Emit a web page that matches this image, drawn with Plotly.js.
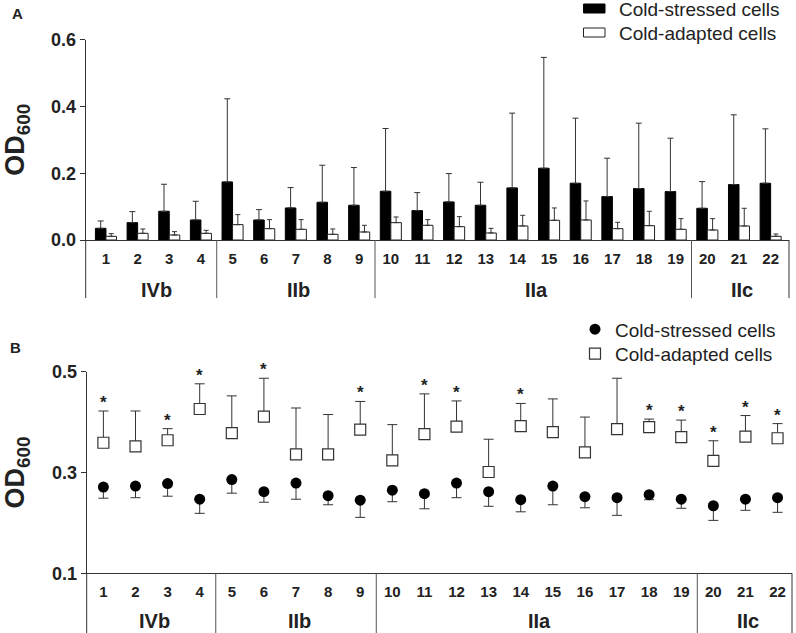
<!DOCTYPE html>
<html>
<head>
<meta charset="utf-8">
<script src="https://cdn.plot.ly/plotly-3.0.1.min.js"></script>
<style>html,body{margin:0;padding:0;background:#fff;}#chart{width:796px;height:633px;}</style>
</head>
<body>
<div id="chart"></div>
<script>
// ---- data ----
const categories = [1,2,3,4,5,6,7,8,9,10,11,12,13,14,15,16,17,18,19,20,21,22];
const tickLabels = ['1','2','3','4','5','6','7','8','9','10','11','12','13','14','15','16','17','18','19','20','21','22'];
const groupNames = ['IVb','IIb','IIa','IIc'];
const groupSizes = [4,5,10,3];
const seriesNames = ['Cold-stressed cells','Cold-adapted cells'];

// Panel A (bars, mean + upper SD)
const aStressed    = [0.035,0.052,0.086,0.060,0.174,0.060,0.096,0.113,0.104,0.146,0.088,0.114,0.104,0.156,0.215,0.170,0.130,0.154,0.145,0.095,0.166,0.170];
const aStressedErr = [0.022,0.033,0.081,0.056,0.249,0.031,0.061,0.111,0.113,0.188,0.054,0.085,0.069,0.224,0.332,0.195,0.115,0.196,0.160,0.080,0.209,0.163];
const aAdapted     = [0.011,0.020,0.015,0.020,0.046,0.034,0.032,0.017,0.024,0.052,0.044,0.040,0.021,0.042,0.059,0.060,0.034,0.043,0.032,0.030,0.042,0.011];
const aAdaptedErr  = [0.008,0.013,0.010,0.009,0.030,0.027,0.029,0.016,0.020,0.017,0.017,0.030,0.014,0.032,0.037,0.057,0.019,0.043,0.032,0.034,0.053,0.007];

// Panel B (points, stressed: lower SD, adapted: upper SD)
const bStressed    = [0.271,0.273,0.278,0.247,0.286,0.262,0.279,0.254,0.245,0.265,0.258,0.279,0.262,0.246,0.273,0.252,0.250,0.256,0.247,0.234,0.247,0.250];
const bStressedErr = [0.022,0.023,0.025,0.028,0.027,0.021,0.032,0.018,0.034,0.023,0.030,0.029,0.029,0.024,0.037,0.022,0.035,0.010,0.018,0.029,0.022,0.029];
const bAdapted     = [0.359,0.352,0.364,0.426,0.378,0.411,0.336,0.336,0.385,0.324,0.376,0.391,0.301,0.392,0.380,0.340,0.386,0.390,0.370,0.323,0.371,0.368];
const bAdaptedErr  = [0.063,0.070,0.023,0.050,0.074,0.076,0.092,0.079,0.056,0.071,0.080,0.051,0.065,0.045,0.066,0.070,0.101,0.016,0.034,0.040,0.042,0.029];
const significant  = [1,3,4,6,9,11,12,14,18,19,20,21,22];

// ---- styling ----
const FONT = 'Liberation Sans, Arial, Helvetica, sans-serif';
const INK = '#222';
const zeros = categories.map(() => 0);
const barColors = ['#000', '#fff'];
const barLines = ['#000', '#222'];

const traces = [
  {type:'bar', name:seriesNames[0], x:categories, y:aStressed, xaxis:'x', yaxis:'y', showlegend:false,
   marker:{color:barColors[0], line:{color:barLines[0], width:1}},
   error_y:{type:'data', symmetric:false, array:aStressedErr, arrayminus:zeros, color:'#333', thickness:1, width:3}},
  {type:'bar', name:seriesNames[1], x:categories, y:aAdapted, xaxis:'x', yaxis:'y', showlegend:false,
   marker:{color:barColors[1], line:{color:barLines[1], width:1}},
   error_y:{type:'data', symmetric:false, array:aAdaptedErr, arrayminus:zeros, color:'#333', thickness:1, width:2.5}},
  {type:'scatter', mode:'markers', name:seriesNames[0], x:categories, y:bStressed, xaxis:'x2', yaxis:'y2', legend:'legend',
   marker:{symbol:'circle', size:11, color:'#000'},
   error_y:{type:'data', symmetric:false, array:zeros, arrayminus:bStressedErr, color:'#333', thickness:1, width:5}},
  {type:'scatter', mode:'markers', name:seriesNames[1], x:categories, y:bAdapted, xaxis:'x2', yaxis:'y2', legend:'legend2',
   marker:{symbol:'square', size:11, color:'#fff', line:{color:'#333', width:1.2}},
   error_y:{type:'data', symmetric:false, array:bAdaptedErr, arrayminus:zeros, color:'#333', thickness:1, width:5}}
];

// group boundaries derived from group sizes
const bounds = []; let acc = 0;
groupSizes.forEach(n => { bounds.push([acc + 0.5, acc + n + 0.5]); acc += n; });

const W = 796, H = 633;
const px = v => v / W, py = v => 1 - v / H;

const xCommon = {
  type:'linear', showline:true, linecolor:'#333', linewidth:1, ticks:'', showgrid:false, zeroline:false,
  tickvals:categories, ticktext:tickLabels, ticklabelstandoff:5,
  tickfont:{family:FONT, size:15, color:INK, weight:'bold'}
};
const yCommon = {
  showline:true, linecolor:'#333', linewidth:1, ticks:'outside', ticklen:5, tickwidth:1, tickcolor:'#333',
  showgrid:false, zeroline:false, tickfont:{family:FONT, size:18, color:INK, weight:'bold'},
  title:{text:'OD<sub>600</sub>', font:{family:FONT, size:27, color:INK, weight:'bold'}, standoff:20}
};

const legendStyle = (topPx) => ({x:px(575), y:py(topPx), xanchor:'left', yanchor:'top',
  bgcolor:'rgba(0,0,0,0)', font:{family:FONT, size:19, color:INK}});

const layout = {
  width:W, height:H, margin:{l:0, r:0, t:0, b:0}, paper_bgcolor:'#fff', plot_bgcolor:'#fff',
  font:{family:FONT, color:INK}, barmode:'group', bargap:0.335, bargroupgap:0,
  xaxis: Object.assign({}, xCommon, {domain:[px(85.7), px(789)], range:[0.36, 22.58], anchor:'y'}),
  yaxis: Object.assign({}, yCommon, {domain:[py(240), py(39.7)], range:[0, 0.6], tickvals:[0,0.2,0.4,0.6], tickformat:'.1f', anchor:'x'}),
  xaxis2: Object.assign({}, xCommon, {domain:[px(86.7), px(792)], range:[0.48, 22.45], anchor:'y2'}),
  yaxis2: Object.assign({}, yCommon, {domain:[py(573.3), py(371.7)], range:[0.1, 0.5], tickvals:[0.1,0.3,0.5], tickformat:'.1f', anchor:'x2'}),
  legend: legendStyle(310.3),
  legend2: legendStyle(334.7),
  shapes:[], annotations:[]
};

// panel A legend (wide rectangular keys as in the reference)
[[8.5, 9.3], [32.5, 33.3]].forEach(([cy, ty], i) => {
  layout.shapes.push({type:'rect', xref:'paper', yref:'paper', x0:px(583.5), x1:px(605), y0:py(cy - 4.5), y1:py(cy + 4.5),
    fillcolor:barColors[i], line:{color:barLines[i], width:1}});
  layout.annotations.push({xref:'paper', yref:'paper', x:px(617), y:py(ty), text:seriesNames[i], showarrow:false,
    xanchor:'left', yanchor:'middle', font:{family:FONT, size:19, color:INK}});
});

// separator lines below axes and group labels
[['x','y',-0.29,-0.25],['x2','y2',-0.31,-0.238]].forEach(([xa, ya, ybot, ylab]) => {
  layout.shapes.push({type:'line', xref:xa+' domain', yref:ya+' domain', x0:0, x1:0, y0:0, y1:ybot, line:{color:'#333', width:1}});
  layout.shapes.push({type:'line', xref:xa+' domain', yref:ya+' domain', x0:1, x1:1, y0:0, y1:ybot, line:{color:'#333', width:1}});
  bounds.slice(0, -1).forEach(b => {
    layout.shapes.push({type:'line', xref:xa, yref:ya+' domain', x0:b[1], x1:b[1], y0:0, y1:ybot, line:{color:'#555', width:1}});
  });
  groupNames.forEach((g, i) => {
    layout.annotations.push({xref:xa, yref:ya+' domain', x:(bounds[i][0] + bounds[i][1]) / 2, y:ylab, text:g, showarrow:false,
      xanchor:'center', yanchor:'middle', xshift:3, font:{family:FONT, size:20, color:INK, weight:'bold'}});
  });
});

// significance stars
significant.forEach(c => {
  const i = categories.indexOf(c);
  layout.annotations.push({xref:'x2', yref:'y2', x:c, y:bAdapted[i] + bAdaptedErr[i], text:'*', showarrow:false,
    xanchor:'center', yanchor:'bottom', yshift:-3, font:{family:FONT, size:17, color:INK, weight:'bold'}});
});

// panel letters
layout.annotations.push({xref:'paper', yref:'paper', x:px(17.5), y:py(13), text:'A', showarrow:false, xanchor:'center', yanchor:'middle', font:{family:FONT, size:15, color:INK, weight:'bold'}});
layout.annotations.push({xref:'paper', yref:'paper', x:px(15.5), y:py(347.5), text:'B', showarrow:false, xanchor:'center', yanchor:'middle', font:{family:FONT, size:15, color:INK, weight:'bold'}});

Plotly.newPlot('chart', traces, layout, {staticPlot:true, displayModeBar:false});
</script>
</body>
</html>
